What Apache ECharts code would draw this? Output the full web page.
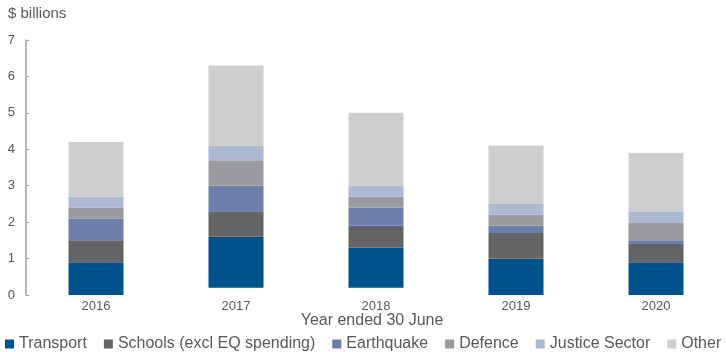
<!DOCTYPE html>
<html>
<head>
<meta charset="utf-8">
<script src="https://cdn.jsdelivr.net/npm/echarts@6/dist/echarts.min.js"></script>
<style>
  html, body { margin: 0; padding: 0; background: #fff; }
  #container { width: 726px; height: 352px; }
</style>
</head>
<body>
<div id="container"></div>
<script>
var years = ['2016', '2017', '2018', '2019', '2020'];
// 2017 and 2018 bars sit on a blank offset in the original
var baseOffset = [0, 0.2, 0.2, 0, 0];
var transport = [0.9, 1.4, 1.1, 1.0, 0.9];
var schools = [0.6, 0.7, 0.6, 0.7, 0.5];
var earthquake = [0.6, 0.7, 0.5, 0.2, 0.1];
var defence = [0.3, 0.7, 0.3, 0.3, 0.5];
var justice = [0.3, 0.4, 0.3, 0.3, 0.3];
var other = [1.5, 2.2, 2.0, 1.6, 1.6];
var yTicks = [0, 1, 2, 3, 4, 5, 6, 7];

var font = 'Liberation Sans, Arial, sans-serif';
var textColor = '#595959';

var seriesDef = [
    { name: 'Transport', data: transport, color: '#00528a' },
    { name: 'Schools (excl EQ spending)', data: schools, color: '#646466' },
    { name: 'Earthquake', data: earthquake, color: '#6c7fab' },
    { name: 'Defence', data: defence, color: '#9a9b9e' },
    { name: 'Justice Sector', data: justice, color: '#adb8d3' },
    { name: 'Other', data: other, color: '#cdced0' }
];

var series = [{
    name: 'base',
    type: 'bar',
    stack: 'total',
    barWidth: 55,
    silent: true,
    itemStyle: { color: 'rgba(0,0,0,0)' },
    data: baseOffset
}];
for (var i = 0; i < seriesDef.length; i++) {
    var s = seriesDef[i];
    series.push({
        name: s.name,
        type: 'bar',
        stack: 'total',
        barWidth: 55,
        itemStyle: { color: s.color },
        data: s.data
    });
}

var myChart = echarts.init(document.getElementById('container'));
myChart.setOption({
    animation: false,
    title: [{
        text: '$ billions',
        left: 3, top: 1,
        textStyle: { fontFamily: font, fontSize: 15, fontWeight: 'normal', color: textColor }
    }, {
        text: 'Year ended 30 June',
        left: 367, top: 308, textAlign: 'center',
        textStyle: { fontFamily: font, fontSize: 16, fontWeight: 'normal', color: textColor }
    }],
    legend: {
        data: seriesDef.map(function(s) { return s.name; }),
        left: 5, top: 336, padding: 0,
        itemWidth: 9, itemHeight: 9, itemGap: 17,
        icon: 'rect',
        textStyle: { fontFamily: font, fontSize: 16, color: textColor }
    },
    grid: { left: 26, right: 0, top: 40, bottom: 57 },
    xAxis: {
        type: 'category',
        data: years,
        axisLine: { show: false },
        axisTick: { show: false },
        axisLabel: { fontFamily: font, fontSize: 13, color: textColor, margin: 5 }
    },
    yAxis: {
        type: 'value',
        min: yTicks[0], max: yTicks[yTicks.length - 1], interval: 1,
        splitLine: { show: false },
        axisLine: { show: true, lineStyle: { color: '#a0a0a0', width: 1.5 } },
        axisTick: { show: true, inside: true, length: 3, lineStyle: { color: '#a0a0a0' } },
        axisLabel: { fontFamily: font, fontSize: 13, color: textColor, margin: 11 }
    },
    series: series
});
</script>
</body>
</html>
